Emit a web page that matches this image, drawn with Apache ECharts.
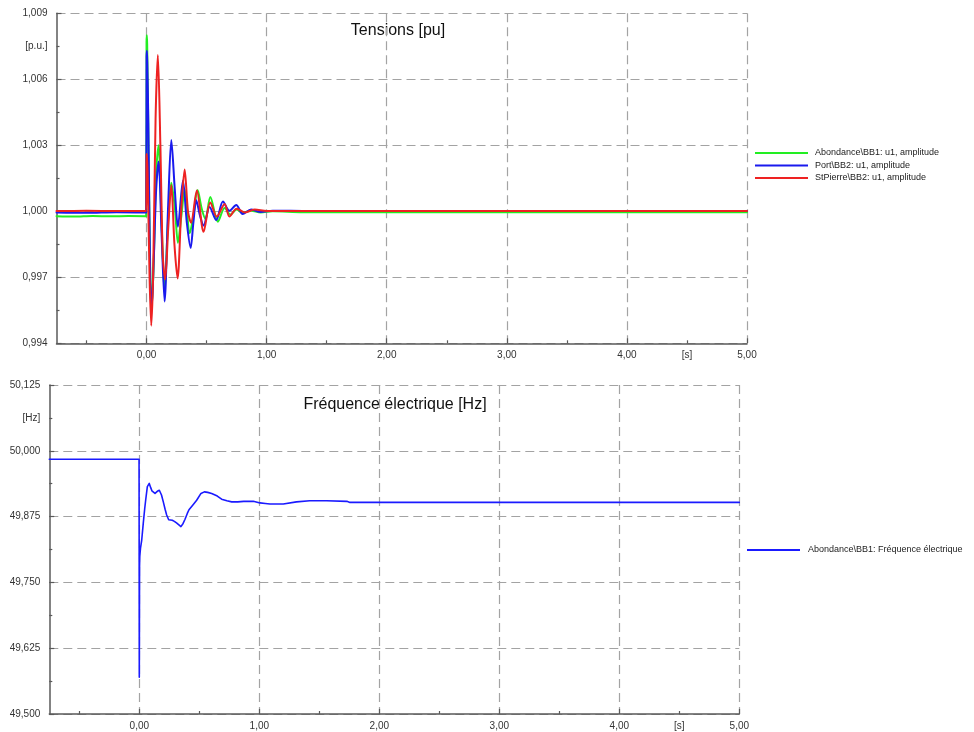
<!DOCTYPE html>
<html><head><meta charset="utf-8">
<script src="https://cdn.jsdelivr.net/npm/echarts@6/dist/echarts.min.js"></script>
<style>html,body{margin:0;padding:0;background:#fff}#c{width:974px;height:732px}</style>
</head><body><div id="c"></div>
<script>
// ---- tick values ----
const xMajor = [0, 1, 2, 3, 4, 5];
const xMinor = [-0.5, 0.5, 1.5, 2.5, 3.5, 4.5];
const xLabelValues = [0, 1, 2, 3, 4, 4.5, 5];
const uTicks = [0.994, 0.997, 1.000, 1.003, 1.006, 1.009];
const uMinor = [0.9955, 0.9985, 1.0015, 1.0045, 1.0075];
const uLabelValues = [0.994, 0.997, 1.000, 1.003, 1.006, 1.0075, 1.009];
const fTicks = [49.5, 49.625, 49.75, 49.875, 50, 50.125];
const fMinor = [49.5625, 49.6875, 49.8125, 49.9375, 50.0625];
const fLabelValues = [49.5, 49.625, 49.75, 49.875, 50, 50.0625, 50.125];

// ---- series data ----
const greenT = [-0.75,-0.6,-0.45,-0.3,-0.15,-0.003,0.0,0.002,0.005,0.015,0.03,0.044,0.06,0.08,0.1,0.125,0.15,0.178,0.206,0.235,0.261,0.29,0.317,0.36,0.39,0.425,0.46,0.49,0.531,0.594,0.65,0.7,0.75,0.8,0.87,0.95,1.05,1.3,5];
const greenV = [0.99978,0.99976,0.99979,0.99977,0.99979,0.99978,1.0077,1.0080,1.0076,1.0035,0.9975,0.9957,0.9978,1.0018,1.0030,0.9995,0.9963,0.9995,1.0013,1.0002,0.99857,0.9998,1.0010,0.9990,0.9998,1.00097,1.0001,0.99965,1.00065,0.99953,1.00015,0.99985,1.00008,0.99993,1.00003,0.99995,1.0000,0.99996,0.99996];

const blueT = [-0.75,-0.5,-0.25,-0.003,0.0,0.003,0.006,0.015,0.03,0.042,0.06,0.08,0.1,0.125,0.15,0.18,0.206,0.235,0.261,0.303,0.335,0.367,0.39,0.414,0.445,0.475,0.525,0.58,0.636,0.69,0.747,0.8,0.87,0.95,1.05,1.2,1.4,5];
const blueV = [0.99995,0.99993,0.99996,0.99994,1.0070,1.0073,1.0068,1.0040,0.9970,0.9955,0.9978,1.0010,1.00226,0.9990,0.9959,1.0003,1.00324,1.0010,0.9993,1.0014,0.9995,0.99834,0.9995,1.0005,0.9998,0.99935,1.0002,0.9996,1.00044,1.00002,1.00029,0.99988,1.00008,0.99997,1.00003,1.00002,1.00001,1.00001];

const redT = [-0.75,-0.5,-0.25,-0.003,0.0,0.003,0.01,0.025,0.039,0.055,0.075,0.094,0.115,0.135,0.155,0.18,0.206,0.232,0.258,0.29,0.317,0.345,0.37,0.419,0.475,0.531,0.585,0.65,0.69,0.75,0.82,0.9,1.0,5];
const redV = [1.00001,1.00002,1.00001,1.00001,1.0025,1.0026,1.0015,0.9970,0.9948,0.9972,1.0042,1.0071,1.0030,0.9980,0.9969,0.9992,1.0012,0.9985,0.99695,1.0002,1.0019,1.0000,0.99948,1.00095,0.99907,1.0004,0.99976,1.00033,0.99976,1.00012,0.99995,1.00008,1.00001,1.00001];

const freqT = [-0.75,-0.002,0.0,0.002,0.004,0.01,0.02,0.033,0.045,0.053,0.067,0.083,0.095,0.105,0.131,0.15,0.167,0.185,0.2,0.215,0.228,0.245,0.256,0.275,0.292,0.31,0.325,0.347,0.365,0.381,0.4,0.414,0.45,0.478,0.514,0.542,0.57,0.603,0.65,0.686,0.73,0.77,0.82,0.87,0.95,1.006,1.05,1.089,1.2,1.31,1.42,1.56,1.73,1.755,5];
const freqV = [49.984,49.984,49.570,49.78,49.80,49.815,49.830,49.862,49.89,49.906,49.932,49.938,49.930,49.924,49.919,49.923,49.925,49.916,49.903,49.889,49.878,49.869,49.867,49.868,49.866,49.863,49.861,49.856,49.862,49.870,49.881,49.888,49.898,49.906,49.919,49.922,49.921,49.919,49.914,49.908,49.905,49.903,49.903,49.904,49.904,49.901,49.900,49.899,49.899,49.903,49.905,49.905,49.904,49.902,49.902];

const zip = (t, v) => t.map((x, i) => [x, v[i]]);
const FONT = '"Liberation Sans", Arial, Helvetica, sans-serif';
const AX = '#5a5a5a';
const comma = (v, d) => v.toFixed(d).replace('.', ',');

function mainX(g) {
  return {
    type: 'value', gridIndex: g, min: -0.75, max: 5, position: 'bottom',
    axisLine: { show: true, onZero: false, lineStyle: { color: AX, width: 1.5 } },
    axisTick: { show: true, inside: true, length: 5, customValues: xMajor, lineStyle: { color: AX, width: 1.2 } },
    axisLabel: { customValues: xLabelValues, margin: 7, fontSize: 10, color: '#333', fontFamily: FONT,
      formatter: v => Math.abs(v - 4.5) < 1e-9 ? '[s]' : comma(v, 2) },
    splitLine: { show: true, lineStyle: { type: [9, 5], color: '#a3a3a3', width: 1.2 } }
  };
}
function minorX(g) {
  return {
    type: 'value', gridIndex: g, min: -0.75, max: 5, position: 'bottom',
    axisLine: { show: false, onZero: false },
    axisTick: { show: true, inside: true, length: 3, customValues: xMinor, lineStyle: { color: AX, width: 1.2 } },
    axisLabel: { show: false }, splitLine: { show: false }
  };
}
function mainY(g, min, max, ticks, labels, special, name) {
  return {
    type: 'value', gridIndex: g, min: min, max: max, position: 'left',
    axisLine: { show: true, onZero: false, lineStyle: { color: AX, width: 1.5 } },
    axisTick: { show: true, inside: true, length: 5, customValues: ticks, lineStyle: { color: AX, width: 1.2 } },
    axisLabel: { customValues: labels, margin: 9, fontSize: 10, color: '#333', fontFamily: FONT,
      formatter: v => Math.abs(v - special) < 1e-9 ? name : comma(v, 3) },
    splitLine: { show: true, lineStyle: { type: [9, 5], color: '#a3a3a3', width: 1.2 } }
  };
}
function minorY(g, min, max, ticks) {
  return {
    type: 'value', gridIndex: g, min: min, max: max, position: 'left',
    axisLine: { show: false, onZero: false },
    axisTick: { show: true, inside: true, length: 3, customValues: ticks, lineStyle: { color: AX, width: 1.2 } },
    axisLabel: { show: false }, splitLine: { show: false }
  };
}

const chart = echarts.init(document.getElementById('c'), null, { renderer: 'canvas' });
chart.setOption({
  animation: false,
  backgroundColor: '#fff',
  textStyle: { fontFamily: FONT },
  grid: [
    { left: 56.5, top: 13.3, width: 690.5, height: 330, containLabel: false },
    { left: 49.3, top: 385, width: 690, height: 329, containLabel: false }
  ],
  xAxis: [mainX(0), minorX(0), mainX(1), minorX(1)],
  yAxis: [
    mainY(0, 0.994, 1.009, uTicks, uLabelValues, 1.0075, '[p.u.]'),
    minorY(0, 0.994, 1.009, uMinor),
    mainY(1, 49.5, 50.125, fTicks, fLabelValues, 50.0625, '[Hz]'),
    minorY(1, 49.5, 50.125, fMinor)
  ],
  legend: [
    { data: ['Abondance\\BB1: u1, amplitude', 'Port\\BB2: u1, amplitude', 'StPierre\\BB2: u1, amplitude'],
      orient: 'vertical', left: 755, top: 147, icon: 'rect', itemWidth: 53, itemHeight: 2, itemGap: 0.5, padding: 0,
      textStyle: { fontSize: 9, color: '#222', fontFamily: FONT, lineHeight: 12, padding: [0, 0, 0, 2] } },
    { data: ['Abondance\\BB1: Fréquence électrique'],
      orient: 'vertical', left: 747, top: 544, icon: 'rect', itemWidth: 53, itemHeight: 2, padding: 0,
      textStyle: { fontSize: 9, color: '#222', fontFamily: FONT, lineHeight: 12, padding: [0, 0, 0, 3] } }
  ],
  graphic: [
    { type: 'text', x: 398, y: 31, style: { text: 'Tensions [pu]', fontSize: 16, fill: '#111', fontFamily: FONT, textAlign: 'center', textVerticalAlign: 'middle' } },
    { type: 'text', x: 395, y: 405, style: { text: 'Fréquence électrique [Hz]', fontSize: 16, fill: '#111', fontFamily: FONT, textAlign: 'center', textVerticalAlign: 'middle' } }
  ],
  series: [
    { name: 'Abondance\\BB1: u1, amplitude', type: 'line', xAxisIndex: 0, yAxisIndex: 0, symbol: 'none',
      smooth: 0.3, data: zip(greenT, greenV), lineStyle: { color: '#22ee22', width: 2, join: 'round', cap: 'round' }, itemStyle: { color: '#22ee22' } },
    { name: 'Port\\BB2: u1, amplitude', type: 'line', xAxisIndex: 0, yAxisIndex: 0, symbol: 'none',
      smooth: 0.3, data: zip(blueT, blueV), lineStyle: { color: '#1a1aee', width: 2, join: 'round', cap: 'round' }, itemStyle: { color: '#1a1aee' } },
    { name: 'StPierre\\BB2: u1, amplitude', type: 'line', xAxisIndex: 0, yAxisIndex: 0, symbol: 'none',
      smooth: 0.3, data: zip(redT, redV), lineStyle: { color: '#ee2222', width: 2, join: 'round', cap: 'round' }, itemStyle: { color: '#ee2222' } },
    { name: 'Abondance\\BB1: Fréquence électrique', type: 'line', xAxisIndex: 2, yAxisIndex: 2, symbol: 'none',
      smooth: false, data: zip(freqT, freqV), lineStyle: { color: '#1a1aff', width: 1.6, join: 'round', cap: 'round' }, itemStyle: { color: '#1a1aff' } }
  ]
});
</script></body></html>
